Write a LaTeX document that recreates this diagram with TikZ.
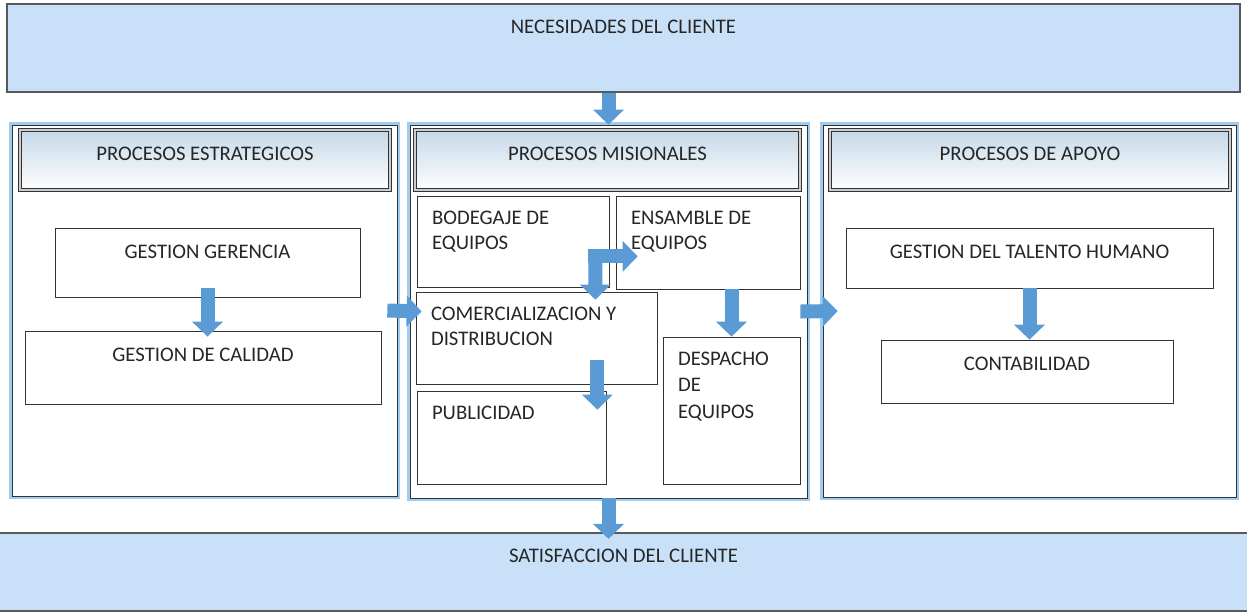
\documentclass[tikz,border=0pt]{standalone}
\usepackage{fontspec}
\setmainfont{Carlito}
\usetikzlibrary{
	arrows.meta,
	positioning,
	fit,
	calc,
}
\definecolor{bandazul}{RGB}{201,225,248}
\definecolor{brilloazul}{RGB}{160,204,240}
\definecolor{cabazul}{RGB}{196,216,232}
\definecolor{flechazul}{RGB}{91,155,213}
\tikzset{banda/.style={
		% The shape:
		rectangle,inner sep=0pt,
		% The border:
		line width=1.2pt,draw=black!65,
		% The filling:
		fill=bandazul,
}}
\tikzset{panel/.style={
		% The shape:
		rectangle,inner sep=0pt,
		% The border, with a blue glow round it
		thin,draw=black!80,fill=white,
		preaction={draw=brilloazul,line width=0.12cm},
}}
\tikzset{cabecera/.style={
		% The shape:
		rectangle,inner sep=0pt,
		% The border:
		line width=0.9pt,draw=black!80,double=gray!40,double distance=1pt,
		% The filling:
		top color=cabazul, % a shading that is blue at the top...
		bottom color=white, % and white at the bottom
}}
\tikzset{caja/.style={
		rectangle,inner sep=0pt,
		thin,draw=black!80,fill=white,
}}
\tikzset{etqarriba/.style={
		% text centred at the top of its box
		anchor=north,inner xsep=0.3cm,inner ysep=0.34cm,
}}
\tikzset{etqizq/.style={
		% text at the top left of its box
		anchor=north west,align=left,inner xsep=0.3cm,inner ysep=0.3cm,
}}
\tikzset{flecha/.style={
		line width=0.28cm,draw=flechazul,
		-{Triangle[length=0.3cm,width=0.6cm]},
}}

\begin{document}
\begin{tikzpicture}[x=0.02cm,y=-0.02cm,text=black!85,
	font=\fontsize{11.8}{14}\selectfont]
	\useasboundingbox (0,0) rectangle (1247,613);
	% bands of the client
	\node[banda,fit={(7,4) (1240,92)},label={[etqarriba]north:NECESIDADES DEL CLIENTE}] (nec) {};
	\node[banda,fit={(-3,533) (1250,611)},label={[etqarriba]north:SATISFACCION DEL CLIENTE}] (sat) {};
	% the three panels
	\node[panel,fit={(12,125) (397,496)}] (est) {};
	\node[panel,fit={(410,125) (807,498)}] (mis) {};
	\node[panel,fit={(823,125) (1236,497)}] (apo) {};
	\node[cabecera,fit={(20,130) (390,190)},label={[etqarriba]north:PROCESOS ESTRATEGICOS}] (est-cab) {};
	\node[cabecera,fit={(415,130) (800,190)},label={[etqarriba]north:PROCESOS MISIONALES}] (mis-cab) {};
	\node[cabecera,fit={(830,130) (1230,190)},label={[etqarriba]north:PROCESOS DE APOYO}] (apo-cab) {};
	% strategic
	\node[caja,fit={(55,228) (360,297)},label={[etqarriba]north:GESTION GERENCIA}] (ger) {};
	\node[caja,fit={(25,331) (381,404)},label={[etqarriba]north:GESTION DE CALIDAD}] (cal) {};
	% missional
	\node[caja,fit={(417,196) (609,287)},label={[etqizq]north west:BODEGAJE DE\\EQUIPOS}] (bod) {};
	\node[caja,fit={(616,196) (800,289)},label={[etqizq]north west:ENSAMBLE DE\\EQUIPOS}] (ens) {};
	\node[caja,fit={(416,292) (657,384)},label={[etqizq]north west:COMERCIALIZACION Y\\DISTRIBUCION}] (com) {};
	\node[caja,fit={(663,337) (800,484)},label={[etqizq]north west:DESPACHO\\[1pt]DE\\[1pt]EQUIPOS}] (des) {};
	\node[caja,fit={(417,391) (606,484)},label={[etqizq]north west:PUBLICIDAD}] (pub) {};
	% support
	\node[caja,fit={(846,228) (1213,288)},label={[etqarriba]north:GESTION DEL TALENTO HUMANO}] (tal) {};
	\node[caja,fit={(881,340) (1173,403)},label={[etqarriba]north:CONTABILIDAD}] (con) {};
	% block arrows
	\draw[flecha] (mis.north |- nec.south) -- (mis.north);
	\draw[flecha] (mis.south) -- ([yshift=-0.14cm]mis.south |- sat.north);
	\draw[flecha] ([xshift=-0.2cm]est.east) -- ([xshift=0.24cm]mis.west);
	\draw[flecha] ([xshift=-0.14cm]mis.east) -- ([xshift=0.3cm]apo.west);
	\draw[flecha] ([yshift=0.18cm]ger.south) -- ([yshift=-0.12cm]ger.south |- cal.north);
	\draw[flecha] (tal.south) -- (tal.south |- con.north);
	\draw[flecha] ($(bod.south east)+(-21,-31)$) -- ($(ens.south west)+(22,-33)$);
	\draw[flecha] ($(bod.south east)+(-14,-37)$) -- ($(com.north east)+(-62,8)$);
	\draw[flecha] (des.north |- ens.south) -- (des.north);
	\draw[flecha] ($(com.south east)+(-60,-24)$) -- ($(pub.north east)+(-9,19)$);
\end{tikzpicture}
\end{document}
